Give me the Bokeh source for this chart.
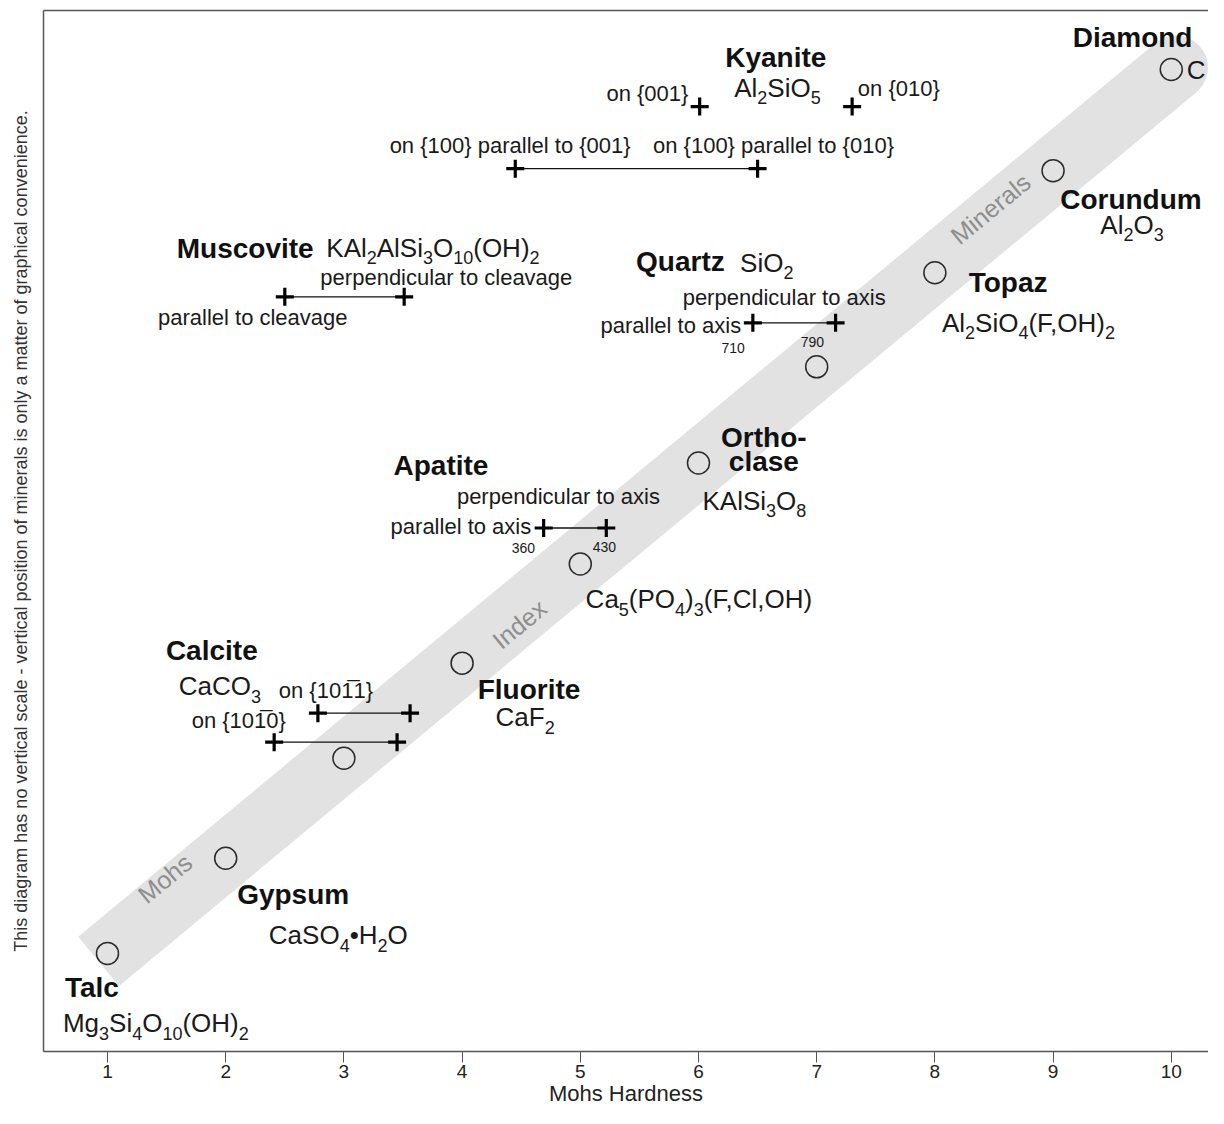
import re
from bokeh.plotting import figure
from bokeh.models import Range1d, LinearAxis, FixedTicker, ColumnDataSource
from bokeh.core.properties import value
from bokeh.embed import file_html
from bokeh.resources import INLINE

FONT = "Liberation Sans"

# ---------------- data ----------------
minerals = ["Talc", "Gypsum", "Calcite", "Fluorite", "Apatite",
            "Orthoclase", "Quartz", "Topaz", "Corundum", "Diamond"]
mohs_hardness = [1, 2, 3, 4, 5, 6, 7, 8, 9, 10]
# arbitrary vertical placement (no vertical scale)
vertical_position = [105, 200, 300, 395, 494, 595, 691, 785, 887, 988]
formulas = ["Mg_3Si_4O_10(OH)_2", "CaSO_4•H_2O", "CaCO_3", "CaF_2",
            "Ca_5(PO_4)_3(F,Cl,OH)", "KAlSi_3O_8", "SiO_2",
            "Al_2SiO_4(F,OH)_2", "Al_2O_3", "C"]

# directional hardness ranges (Kyanite, Muscovite, Quartz, Apatite, Calcite x2)
range_low = [4.45, 2.50, 6.46, 4.69, 2.78, 2.41]
range_high = [6.50, 3.51, 7.16, 5.22, 3.56, 3.45]
range_position = [889, 761, 735, 530, 345, 316]
# single directional values (Kyanite on {001}, on {010})
single_hardness = [6.01, 7.30]
single_position = [951, 951]
# Knoop values printed under the Quartz / Apatite ranges
knoop_values = ["710", "790", "360", "430"]

tick_values = [1, 2, 3, 4, 5, 6, 7, 8, 9, 10]

# decorative index band
band_hardness = [0.925, 10.04]
band_position = [97, 990]

# ---------------- label layout (centre lines) ----------------
name_layout = [
    ("Talc", 0.640, 71, "left"), ("Gypsum", 2.097, 164, "left"),
    ("Calcite", 1.494, 408, "left"), ("Fluorite", 4.132, 369, "left"),
    ("Apatite", 3.420, 592, "left"), ("Ortho-", 6.553, 620, "center"),
    ("clase", 6.553, 596, "center"), ("Quartz", 5.472, 796, "left"),
    ("Topaz", 8.286, 775, "left"), ("Corundum", 9.060, 858, "left"),
    ("Diamond", 9.166, 1020, "left"), ("Muscovite", 1.586, 809, "left"),
    ("Kyanite", 6.226, 1000, "left"),
]
formula_anchor = [(0.623, 35), (2.365, 123), (1.603, 372), (4.283, 341),
                  (5.045, 459), (6.034, 557), (6.352, 795), (8.060, 735),
                  (9.400, 833), (10.13, 988)]
extra_formulas = [("KAl_2AlSi_3O_10(OH)_2", 2.851, 810), ("Al_2SiO_5", 6.302, 970)]
note_layout = [
    ("on {001}", 5.221, 964), ("on {010}", 7.348, 969),
    ("on {100} parallel to {001}", 3.387, 912),
    ("on {100} parallel to {010}", 5.615, 912),
    ("perpendicular to cleavage", 2.801, 780), ("parallel to cleavage", 1.427, 740),
    ("perpendicular to axis", 5.866, 760), ("parallel to axis", 5.171, 732),
    ("perpendicular to axis", 3.956, 561), ("parallel to axis", 3.395, 531),
    ("on {10" + "1\u0305" + "1}", 2.449, 368), ("on {10" + "1\u0305" + "0}", 1.712, 338),
]
knoop_layout = [(6.293, 710), (6.963, 716), (4.518, 510), (5.204, 511)]
band_labels = [("Mohs", 1.486, 180), ("Index", 4.484, 434), ("Minerals", 8.471, 849)]

# Arial / Liberation Sans advance widths (1/1000 em) and kerning pairs
W = {" ": 278, "(": 333, ")": 333, ",": 278, "-": 333, ".": 278, "{": 334, "}": 334,
     "•": 350,
     "A": 667, "B": 667, "C": 722, "D": 722, "E": 667, "F": 611, "G": 778, "H": 722,
     "I": 278, "J": 500, "K": 667, "L": 556, "M": 833, "N": 722, "O": 778, "P": 667,
     "Q": 778, "R": 722, "S": 667, "T": 611, "U": 722, "V": 667, "W": 944, "X": 667,
     "Y": 667, "Z": 611,
     "a": 556, "b": 556, "c": 500, "d": 556, "e": 556, "f": 278, "g": 556, "h": 556,
     "i": 222, "j": 222, "k": 500, "l": 222, "m": 833, "n": 556, "o": 556, "p": 556,
     "q": 556, "r": 333, "s": 500, "t": 278, "u": 556, "v": 500, "w": 722, "x": 500,
     "y": 500, "z": 500}
KERN = {("F", ","): -111, ("F", "."): -111, ("P", ","): -148}


def tw(s, size):
    total = sum(W.get(c, 556) for c in s)
    total += sum(KERN.get((a, b), 0) for a, b in zip(s, s[1:]))
    return total * size / 1000.0


MAIN, SUB, SUB_SHIFT = 26, 18, 10
main_rows = dict(x=[], y=[], text=[], xo=[])
sub_rows = dict(x=[], y=[], text=[], xo=[])


def add_formula(markup, x, y):
    off = 0.0
    for part in re.split(r"(_\d+)", markup):
        if not part:
            continue
        if part.startswith("_"):
            t = part[1:]
            sub_rows["x"].append(x); sub_rows["y"].append(y)
            sub_rows["text"].append(t); sub_rows["xo"].append(off)
            off += tw(t, SUB)
        else:
            main_rows["x"].append(x); main_rows["y"].append(y)
            main_rows["text"].append(part); main_rows["xo"].append(off)
            off += tw(part, MAIN)


for f, (fx, fy) in zip(formulas, formula_anchor):
    add_formula(f, fx, fy)
for f, fx, fy in extra_formulas:
    add_formula(f, fx, fy)

# ---------------- figure ----------------
p = figure(width=1208, height=1108,
           x_range=Range1d(0.4585, 10.315), y_range=Range1d(7, 1047),
           output_backend="svg", toolbar_location=None,
           x_axis_location=None, y_axis_location=None,
           min_border_left=43, min_border_right=0, min_border_top=10, min_border_bottom=0)
p.outline_line_color = None
p.background_fill_color = "white"
p.border_fill_color = "white"
p.grid.visible = False

AX = "#555555"
xaxis = LinearAxis(ticker=FixedTicker(ticks=tick_values), axis_label="Mohs Hardness")
xaxis.axis_line_color = AX
xaxis.axis_line_width = 1.5
xaxis.major_tick_line_color = AX
xaxis.major_tick_out = 11
xaxis.major_tick_in = 0
xaxis.minor_tick_out = 0
xaxis.minor_tick_in = 0
xaxis.major_label_standoff = 2
xaxis.major_label_text_font = FONT
xaxis.major_label_text_font_size = "19px"
xaxis.major_label_text_color = "#222222"
xaxis.axis_label_standoff = 0
xaxis.axis_label_text_font = FONT
xaxis.axis_label_text_font_size = "22px"
xaxis.axis_label_text_font_style = "normal"
xaxis.axis_label_text_color = "#222222"
p.add_layout(xaxis, "below")

yaxis = LinearAxis(ticker=FixedTicker(ticks=[]),
                   axis_label="This diagram has no vertical scale - vertical position of "
                              "minerals is only a matter of graphical convenience.")
yaxis.axis_line_color = AX
yaxis.axis_line_width = 1.5
yaxis.major_tick_out = 0
yaxis.major_tick_in = 0
yaxis.minor_tick_out = 0
yaxis.minor_tick_in = 0
yaxis.major_label_standoff = 0
yaxis.axis_label_standoff = 13
yaxis.axis_label_text_font = FONT
yaxis.axis_label_text_font_size = "18px"
yaxis.axis_label_text_font_style = "normal"
yaxis.axis_label_text_color = "#333333"
p.add_layout(yaxis, "left")

top = LinearAxis(ticker=FixedTicker(ticks=[]))
top.axis_line_color = AX
top.axis_line_width = 1.5
top.major_tick_out = 0
top.major_tick_in = 0
top.minor_tick_out = 0
top.minor_tick_in = 0
top.major_label_standoff = 0
p.add_layout(top, "above")

# band
BAND = "#e2e2e2"
p.line(band_hardness, band_position, line_width=64, line_color=BAND, line_cap="butt")
p.scatter(band_hardness[-1:], band_position[-1:], marker="circle", size=64,
          fill_color=BAND, line_color=None)

# band labels
bl = ColumnDataSource(dict(x=[b[1] for b in band_labels], y=[b[2] for b in band_labels],
                           text=[b[0] for b in band_labels]))
p.text(x="x", y="y", text="text", source=bl, angle=0.688, text_align="center",
       text_baseline="middle", text_font=value(FONT), text_font_size=value("25px"),
       text_color="#8e8e8e")

# ranges & pluses
p.segment(x0=range_low, y0=range_position, x1=range_high, y1=range_position,
          line_color="#111111", line_width=1.3)
p.scatter(range_low + range_high + single_hardness,
          range_position + range_position + single_position,
          marker="cross", size=18, line_width=3.2, line_color="#000000")

# mineral circles
p.scatter(mohs_hardness, vertical_position, marker="circle", size=22,
          fill_color=None, line_color="#2a2a2a", line_width=1.5)

# names
for align in ("left", "center"):
    rows = [n for n in name_layout if n[3] == align]
    src = ColumnDataSource(dict(x=[r[1] for r in rows], y=[r[2] for r in rows],
                                text=[r[0] for r in rows]))
    p.text(x="x", y="y", text="text", source=src, text_align=align,
           text_baseline="middle", text_font=value(FONT),
           text_font_size=value("28px"), text_font_style="bold", text_color="#111111")

# formulas
p.text(x="x", y="y", text="text", x_offset="xo", source=ColumnDataSource(main_rows),
       text_align="left", text_baseline="middle", text_font=value(FONT),
       text_font_size=value("%dpx" % MAIN), text_color="#1a1a1a")
p.text(x="x", y="y", text="text", x_offset="xo", y_offset=SUB_SHIFT,
       source=ColumnDataSource(sub_rows),
       text_align="left", text_baseline="middle", text_font=value(FONT),
       text_font_size=value("%dpx" % SUB), text_color="#1a1a1a")

# notes
ns = ColumnDataSource(dict(x=[n[1] for n in note_layout], y=[n[2] for n in note_layout],
                           text=[n[0] for n in note_layout]))
p.text(x="x", y="y", text="text", source=ns, text_align="left",
       text_baseline="middle", text_font=value(FONT), text_font_size=value("22px"),
       text_color="#1a1a1a")

# knoop values
ks = ColumnDataSource(dict(x=[k[0] for k in knoop_layout], y=[k[1] for k in knoop_layout],
                           text=knoop_values))
p.text(x="x", y="y", text="text", source=ks, text_align="center",
       text_baseline="middle", text_font=value(FONT), text_font_size=value("14px"),
       text_color="#1a1a1a")

open("out.html", "w").write(file_html(p, INLINE))
